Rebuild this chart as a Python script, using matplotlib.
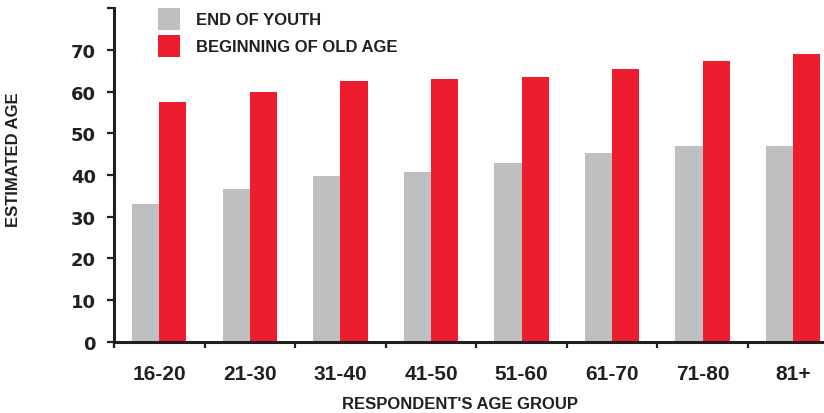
import matplotlib
matplotlib.use("Agg")
import matplotlib.pyplot as plt
from matplotlib.patches import Rectangle
import numpy as np

plt.rcParams['font.family'] = ['Liberation Sans', 'DejaVu Sans']

age_groups = ["16-20", "21-30", "31-40", "41-50", "51-60", "61-70", "71-80", "81+"]
end_of_youth = [33.0, 36.6, 39.7, 40.7, 42.9, 45.3, 46.9, 46.9]
beginning_of_old_age = [57.5, 59.9, 62.5, 63.0, 63.5, 65.4, 67.3, 69.0]
series_names = ["END OF YOUTH", "BEGINNING OF OLD AGE"]
y_ticks = [0, 10, 20, 30, 40, 50, 60, 70, 80]
y_tick_labels = ["0", "10", "20", "30", "40", "50", "60", "70", ""]

GRAY = "#bebfc1"
RED = "#ee1c2f"
INK = "#231f20"

W, H = 824, 414
fig = plt.figure(figsize=(W / 100, H / 100), dpi=100)
ax = fig.add_axes([114 / W, 1 - 342.7 / H, 1 - 114 / W, (342.7 - 9.3) / H])

x = np.arange(len(age_groups))
w = 0.30
ax.bar(x - w / 2, end_of_youth, width=w, color=GRAY, zorder=2)
ax.bar(x + w / 2, beginning_of_old_age, width=w, color=RED, zorder=2)

ax.set_ylim(0, 80)
ax.set_xlim(-0.5, 7.34)

for side in ("top", "right"):
    ax.spines[side].set_visible(False)
for side in ("left", "bottom"):
    ax.spines[side].set_linewidth(2.2)
    ax.spines[side].set_color(INK)

ax.set_yticks(y_ticks)
ax.set_yticklabels(y_tick_labels, fontsize=13, fontweight="bold", color=INK,
                   family=["DejaVu Sans"])
ax.tick_params(axis="y", length=5, width=1.6, color=INK, pad=8)

# category boundaries carry the ticks, labels sit at group centres
ax.set_xticks(np.arange(-0.5, len(age_groups) - 0.5, 1.0))
ax.set_xticklabels([])
ax.tick_params(axis="x", which="major", length=4.5, width=1.6, color=INK)
ax.set_xticks(x, minor=True)
ax.set_xticklabels(age_groups, minor=True, fontsize=15, fontweight="bold", color=INK)
ax.tick_params(axis="x", which="minor", length=0, pad=16)

fig.text(14 / W, 1 - 160 / H, "ESTIMATED AGE", rotation=90, fontsize=12,
         fontweight="bold", color=INK, ha="center", va="center")
fig.text(460 / W, 1 - 405 / H, "RESPONDENT'S AGE GROUP", fontsize=12,
         fontweight="bold", color=INK, ha="center", va="center")

# legend: colour swatches with labels, top left inside the plot
for name, color, top in zip(series_names, [GRAY, RED], [9, 36]):
    fig.patches.append(Rectangle((158 / W, 1 - (top + 22) / H), 22 / W, 22 / H,
                                 transform=fig.transFigure, facecolor=color,
                                 edgecolor="none"))
    fig.text(196 / W, 1 - (top + 11.5) / H, name, fontsize=12, fontweight="bold",
             color=INK, ha="left", va="center")

fig.savefig("out.png", dpi=100)
